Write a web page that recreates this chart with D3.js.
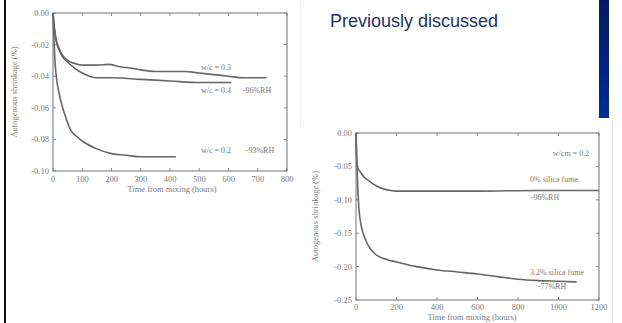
<!DOCTYPE html>
<html>
<head>
<meta charset="utf-8">
<script src="https://cdn.jsdelivr.net/npm/d3@7"></script>
<style>
  body { margin: 0; background: #fff; }
  svg { display: block; }
</style>
</head>
<body>
<div id="slide"></div>
<script>
// ---- left chart data (hours, shrinkage %) ----
const leftXTicks = [0, 100, 200, 300, 400, 500, 600, 700, 800];
const leftYTicks = [0, -0.02, -0.04, -0.06, -0.08, -0.10];
const leftYLabels = ["0.00", "-0.02", "-0.04", "-0.06", "-0.08", "-0.10"];

const wc03Time = [0, 5, 10, 20, 30, 50, 75, 100, 150, 190, 230, 270, 300, 350, 400, 450, 500, 550, 600, 650, 700, 730];
const wc03Val  = [0, -0.010, -0.016, -0.022, -0.026, -0.030, -0.032, -0.033, -0.033, -0.0325, -0.034, -0.035, -0.036, -0.037, -0.037, -0.037, -0.038, -0.039, -0.040, -0.041, -0.041, -0.041];

const wc04Time = [0, 5, 10, 20, 30, 50, 75, 100, 125, 150, 200, 300, 400, 500, 610];
const wc04Val  = [0, -0.010, -0.017, -0.023, -0.027, -0.031, -0.035, -0.038, -0.040, -0.041, -0.041, -0.042, -0.043, -0.044, -0.044];

const wc02Time = [0, 3, 6, 10, 15, 20, 30, 40, 60, 80, 100, 150, 200, 250, 300, 350, 420];
const wc02Val  = [0, -0.015, -0.028, -0.038, -0.045, -0.050, -0.058, -0.064, -0.074, -0.078, -0.081, -0.086, -0.089, -0.090, -0.091, -0.091, -0.091];

// ---- right chart data ----
const rightXTicks = [0, 200, 400, 600, 800, 1000, 1200];
const rightYTicks = [0, -0.05, -0.10, -0.15, -0.20, -0.25];
const rightYLabels = ["0.00", "-0.05", "-0.10", "-0.15", "-0.20", "-0.25"];

const sf0Time = [0, 2, 5, 20, 40, 70, 100, 130, 170, 200, 300, 600, 900, 1200];
const sf0Val  = [0, -0.030, -0.050, -0.058, -0.066, -0.073, -0.079, -0.083, -0.086, -0.087, -0.087, -0.087, -0.086, -0.086];

const sf32Time = [0, 3, 6, 10, 15, 25, 35, 50, 70, 90, 120, 160, 200, 300, 400, 500, 600, 700, 800, 900, 1000, 1090];
const sf32Val  = [0, -0.03, -0.06, -0.09, -0.115, -0.138, -0.150, -0.162, -0.173, -0.180, -0.186, -0.190, -0.193, -0.200, -0.205, -0.208, -0.211, -0.215, -0.219, -0.221, -0.222, -0.223];

const W = 622, H = 323;
const svg = d3.select("#slide").append("svg").attr("width", W).attr("height", H);

// slide decoration
svg.append("rect").attr("x", 4).attr("y", 0).attr("width", 2).attr("height", H).attr("fill", "#111");
svg.append("line").attr("x1", 300.5).attr("x2", 300.5).attr("y1", 2).attr("y2", 126)
    .attr("stroke", "#eee").attr("stroke-width", 1);
const grad = svg.append("defs").append("linearGradient").attr("id", "bar").attr("x1", 0).attr("x2", 0).attr("y1", 0).attr("y2", 1);
grad.append("stop").attr("offset", "0%").attr("stop-color", "#021a5e");
grad.append("stop").attr("offset", "100%").attr("stop-color", "#002c96");
svg.append("rect").attr("x", 599).attr("y", 0).attr("width", 10).attr("height", 118).attr("fill", "url(#bar)");
svg.append("line").attr("x1", 612.5).attr("x2", 612.5).attr("y1", 120).attr("y2", H)
    .attr("stroke", "#e4e4e4").attr("stroke-width", 1);

svg.append("text").attr("x", 330).attr("y", 27)
    .style("font-family", "Arial, 'Liberation Sans', sans-serif").style("font-size", "18px")
    .attr("fill", "#1f3068").text("Previously discussed");

const axisColor = "#8a8a8a";
const curveColor = "#666";
const textColor = "#7a7a7a";
const labelFont = "'Liberation Serif', 'DejaVu Serif', serif";

function drawChart(opt) {
    const g = svg.append("g");
    const x = d3.scaleLinear().domain(opt.xDomain).range([opt.left, opt.right]);
    const y = d3.scaleLinear().domain(opt.yDomain).range([opt.bottom, opt.top]);

    // frame
    g.append("rect")
        .attr("x", opt.left).attr("y", opt.top)
        .attr("width", opt.right - opt.left).attr("height", opt.bottom - opt.top)
        .attr("fill", "none").attr("stroke", axisColor).attr("stroke-width", 1.2);

    // inward ticks on all sides
    opt.xTicks.forEach(t => {
        g.append("line").attr("x1", x(t)).attr("x2", x(t)).attr("y1", opt.bottom).attr("y2", opt.bottom - 3)
            .attr("stroke", axisColor);
        g.append("line").attr("x1", x(t)).attr("x2", x(t)).attr("y1", opt.top).attr("y2", opt.top + 3)
            .attr("stroke", axisColor);
        g.append("text").attr("x", x(t)).attr("y", opt.bottom + opt.xTickGap)
            .attr("text-anchor", "middle").style("font-family", labelFont).style("font-size", opt.tickSize + "px")
            .attr("fill", textColor).text(t);
    });
    opt.yTicks.forEach((t, i) => {
        g.append("line").attr("x1", opt.left).attr("x2", opt.left + 3).attr("y1", y(t)).attr("y2", y(t))
            .attr("stroke", axisColor);
        g.append("line").attr("x1", opt.right).attr("x2", opt.right - 3).attr("y1", y(t)).attr("y2", y(t))
            .attr("stroke", axisColor);
        g.append("text").attr("x", opt.left - 4).attr("y", y(t) + 3)
            .attr("text-anchor", "end").style("font-family", labelFont).style("font-size", opt.tickSize + "px")
            .attr("fill", textColor).text(opt.yLabels[i]);
    });

    // axis titles
    g.append("text").attr("x", opt.xTitleX).attr("y", opt.bottom + opt.xTitleGap)
        .attr("text-anchor", "middle").style("font-family", labelFont).style("font-size", opt.titleSize + "px")
        .attr("fill", textColor).text("Time from mixing (hours)");
    g.append("text")
        .attr("transform", "translate(" + opt.yTitleX + "," + ((opt.top + opt.bottom) / 2) + ") rotate(-90)")
        .attr("text-anchor", "middle").style("font-family", labelFont).style("font-size", opt.titleSize + "px")
        .attr("fill", textColor).text("Autogenous shrinkage (%)");

    const line = d3.line().x(d => x(d[0])).y(d => y(d[1])).curve(d3.curveMonotoneX);
    opt.series.forEach(s => {
        g.append("path").datum(s.time.map((t, i) => [t, s.val[i]]))
            .attr("d", line).attr("fill", "none")
            .attr("stroke", curveColor).attr("stroke-width", 1.6);
    });

    opt.notes.forEach(n => {
        g.append("text").attr("x", n.x).attr("y", n.y).attr("text-anchor", "middle")
            .style("font-family", labelFont).style("font-size", opt.noteSize + "px")
            .attr("fill", textColor).text(n.text);
    });
}

drawChart({
    left: 53, right: 287, top: 13, bottom: 171,
    xDomain: [0, 800], yDomain: [-0.10, 0],
    xTicks: leftXTicks, yTicks: leftYTicks, yLabels: leftYLabels,
    tickSize: 8.5, titleSize: 8.5, noteSize: 8, xTickGap: 11, xTitleGap: 21, xTitleX: 172, yTitleX: 17,
    series: [
        { time: wc03Time, val: wc03Val },
        { time: wc04Time, val: wc04Val },
        { time: wc02Time, val: wc02Val }
    ],
    notes: [
        { x: 216, y: 70, text: "w/c = 0.3" },
        { x: 216, y: 93, text: "w/c = 0.4" },
        { x: 257, y: 93, text: "-96%RH" },
        { x: 216, y: 153, text: "w/c = 0.2" },
        { x: 260, y: 153, text: "-93%RH" }
    ]
});

drawChart({
    left: 356, right: 599, top: 133, bottom: 300,
    xDomain: [0, 1200], yDomain: [-0.25, 0],
    xTicks: rightXTicks, yTicks: rightYTicks, yLabels: rightYLabels,
    tickSize: 8.5, titleSize: 8.5, noteSize: 8, xTickGap: 10, xTitleGap: 20, xTitleX: 472, yTitleX: 318,
    series: [
        { time: sf0Time, val: sf0Val },
        { time: sf32Time, val: sf32Val }
    ],
    notes: [
        { x: 571, y: 156, text: "w/cm = 0.2" },
        { x: 554, y: 182, text: "0% silica fume" },
        { x: 545, y: 200, text: "-96%RH" },
        { x: 557, y: 275, text: "3.2% silica fume" },
        { x: 552, y: 289, text: "-77%RH" }
    ]
});
</script>
</body>
</html>
